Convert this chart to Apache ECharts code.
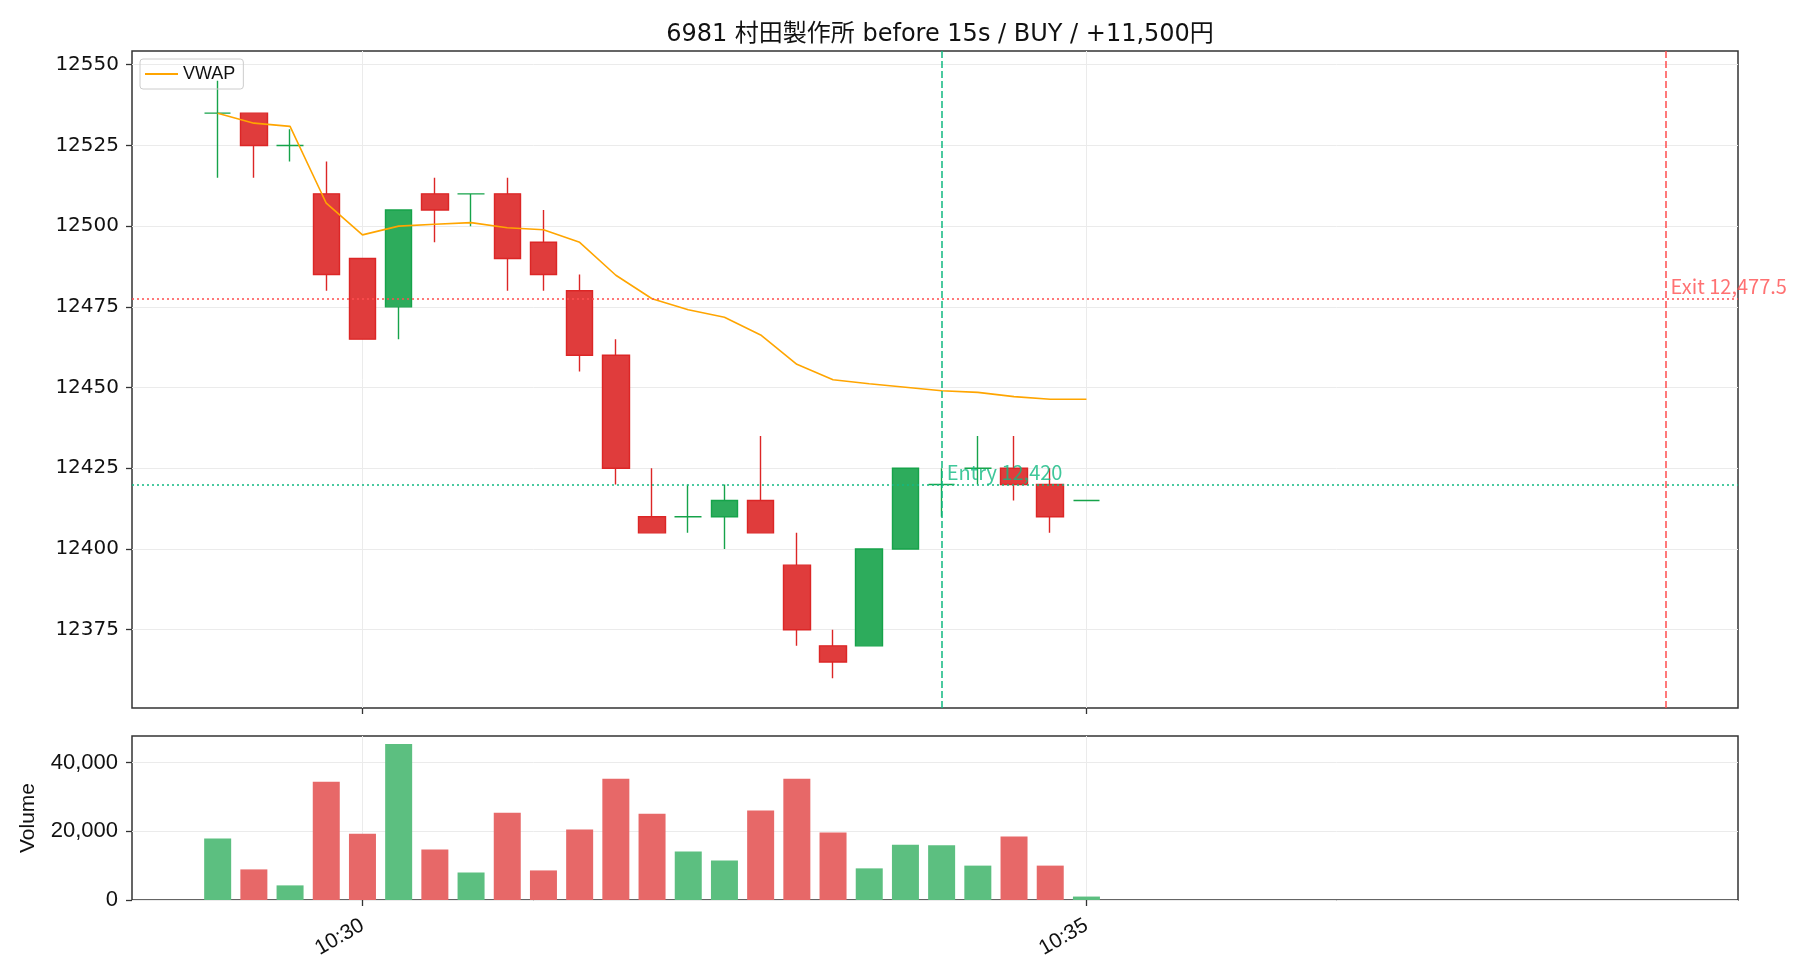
<!DOCTYPE html>
<html>
<head>
<meta charset="utf-8">
<script src="https://cdn.jsdelivr.net/npm/echarts@6/dist/echarts.min.js"></script>
<style>
html,body{margin:0;padding:0;background:#fff;}
#chart{width:1820px;height:980px;}
</style>
</head>
<body>
<div id="chart"></div>
<script>
// 15秒足 ローソク + 出来高
var times = ['10:29:00','10:29:15','10:29:30','10:29:45','10:30:00','10:30:15','10:30:30','10:30:45',
	'10:31:00','10:31:15','10:31:30','10:31:45','10:32:00','10:32:15','10:32:30','10:32:45',
	'10:33:00','10:33:15','10:33:30','10:33:45','10:34:00','10:34:15','10:34:30','10:34:45','10:35:00'];
var opens  = [12535,12535,12525,12510,12490,12475,12510,12510,12510,12495,12480,12460,12410,12410,12410,12415,12395,12370,12370,12400,12420,12425,12425,12420,12415];
var closes = [12535,12525,12525,12485,12465,12505,12505,12510,12490,12485,12460,12425,12405,12410,12415,12405,12375,12365,12400,12425,12420,12425,12420,12410,12415];
var lows   = [12515,12515,12520,12480,12465,12465,12495,12500,12480,12480,12455,12420,12405,12405,12400,12405,12370,12360,12370,12400,12410,12420,12415,12405,12415];
var highs  = [12545,12535,12530,12520,12490,12505,12515,12510,12515,12505,12485,12465,12425,12420,12420,12435,12405,12375,12400,12425,12425,12435,12435,12425,12415];
var volumes = [17900,8900,4250,34400,19300,45400,14700,8000,25400,8600,20500,35300,25100,14100,11500,26000,35300,19600,9200,16100,15900,10000,18500,10000,1000];
var vwap = [12535,12531.9,12530.9,12507.1,12497.3,12500.0,12500.6,12501.1,12499.5,12498.9,12495.0,12484.8,12477.5,12474.1,12471.8,12466.3,12457.2,12452.4,12451.2,12450.1,12449.0,12448.5,12447.2,12446.4,12446.4];

var xTickLabels = ['10:30','10:35'];
var yTicks = [12375,12400,12425,12450,12475,12500,12525,12550];
var volTicks = [0,20000,40000];

var entryTime = '10:34:00', entryPrice = 12420;
var exitTime = '10:39:00', exitPrice = 12477.5;

var UP = '#16a34a', DOWN = '#dc2626';
var UP_BODY = '#2dac5c', DOWN_BODY = '#e03c3c';
var UP_VOL = '#5cbf80', DOWN_VOL = '#e76868';
var ENTRY_C = '#10b981', EXIT_C = '#ff4d4f';
var JP = '"Noto Sans CJK JP", sans-serif';
var WIDE = '"DejaVu Sans", "Noto Sans CJK JP", sans-serif';
var SANS = '"Liberation Sans", Arial, sans-serif';

function toSec(s){
	var p = s.split(':');
	return (+p[0])*3600 + (+p[1])*60 + (p.length > 2 ? +p[2] : 0);
}
function fmtTime(v){
	var h = Math.floor(v/3600), m = Math.floor(v%3600/60);
	return h + ':' + (m < 10 ? '0' : '') + m;
}
function comma(v){
	return String(v).replace(/\B(?=(\d{3})+(?!\d))/g, ',');
}

var xTicks = xTickLabels.map(toSec);
var xMin = toSec('10:29:00') - 35.5;
var xMax = toSec('10:39:30');

var candleData = [], volData = [], vwapData = [];
for (var i = 0; i < times.length; i++) {
	var t = toSec(times[i]);
	var up = closes[i] >= opens[i];
	candleData.push({
		value: [t, opens[i], closes[i], lows[i], highs[i]],
		itemStyle: {
			color: up ? UP_BODY : DOWN_BODY, color0: up ? UP_BODY : DOWN_BODY,
			borderColor: up ? UP : DOWN, borderColor0: up ? UP : DOWN
		}
	});
	volData.push({ value: [t, volumes[i]], itemStyle: { color: up ? UP_VOL : DOWN_VOL } });
	vwapData.push([t, vwap[i]]);
}

var tickStyle = { show: true, length: 6, lineStyle: { color: '#333', width: 1.3 } };
var gridLine = { show: true, lineStyle: { color: '#ebebeb', width: 1 } };

var myChart = echarts.init(document.getElementById('chart'));
var option = {
	animation: false,
	backgroundColor: '#fff',
	title: {
		text: '6981 村田製作所 before 15s / BUY / +11,500円',
		left: 935, top: 18, textAlign: 'center',
		textStyle: { fontFamily: WIDE, fontSize: 24, fontWeight: 'normal', color: '#111' }
	},
	legend: {
		data: ['VWAP'],
		left: 140, top: 59,
		padding: [6, 8, 6, 5],
		borderColor: '#ccc', borderWidth: 1, borderRadius: 3,
		icon: 'rect', itemWidth: 33, itemHeight: 2,
		textStyle: { fontFamily: SANS, fontSize: 18, color: '#111' }
	},
	grid: [
		{ left: 132, right: 82, top: 51, height: 657, show: true, borderColor: '#333', borderWidth: 1.5, backgroundColor: 'transparent' },
		{ left: 132, right: 82, top: 736, height: 164, show: true, borderColor: '#333', borderWidth: 1.5, backgroundColor: 'transparent' }
	],
	xAxis: [
		{
			type: 'value', gridIndex: 0, min: xMin, max: xMax,
			axisLine: { show: false },
			axisTick: Object.assign({ customValues: xTicks }, tickStyle),
			axisLabel: { show: false, customValues: xTicks },
			splitLine: gridLine
		},
		{
			type: 'value', gridIndex: 1, min: xMin, max: xMax,
			axisLine: { show: false },
			axisTick: Object.assign({ customValues: xTicks }, tickStyle),
			axisLabel: {
				customValues: xTicks, rotate: 30, margin: 24,
				formatter: fmtTime,
				fontFamily: SANS, fontSize: 21, color: '#111'
			},
			splitLine: gridLine
		}
	],
	yAxis: [
		{
			type: 'value', gridIndex: 0, min: 12350.75, max: 12554.25,
			axisLine: { show: false },
			axisTick: Object.assign({ customValues: yTicks }, tickStyle),
			axisLabel: { customValues: yTicks, margin: 13, formatter: function (v) { return String(v); },
				fontFamily: WIDE, fontSize: 20, color: '#111' },
			splitLine: gridLine
		},
		{
			type: 'value', gridIndex: 1, min: 0, max: 47700, interval: 20000,
			name: 'Volume', nameLocation: 'middle', nameGap: 93, nameRotate: 90,
			nameTextStyle: { fontFamily: SANS, fontSize: 21, color: '#111' },
			axisLine: { show: false },
			axisTick: Object.assign({ customValues: volTicks }, tickStyle),
			axisLabel: { customValues: volTicks, margin: 14, formatter: comma, fontFamily: SANS, fontSize: 22, color: '#111' },
			splitLine: gridLine
		}
	],
	series: [
		{
			name: 'candle',
			type: 'candlestick',
			xAxisIndex: 0, yAxisIndex: 0,
			barWidth: 27,
			itemStyle: { borderWidth: 1.4 },
			encode: { x: 0, y: [1, 2, 3, 4] },
			data: candleData,
			markLine: {
				silent: true, symbol: ['none', 'none'], label: { show: false },
				data: [
					{ xAxis: toSec(entryTime), lineStyle: { color: ENTRY_C, type: [7, 3], width: 1.5 } },
					{ yAxis: entryPrice, lineStyle: { color: ENTRY_C, type: [2, 3], width: 1.5 } },
					{ xAxis: toSec(exitTime), lineStyle: { color: EXIT_C, type: [7, 3], width: 1.5 } },
					{ yAxis: exitPrice, lineStyle: { color: EXIT_C, type: [2, 3], width: 1.5 } }
				]
			}
		},
		{
			name: 'VWAP',
			type: 'line',
			xAxisIndex: 0, yAxisIndex: 0,
			showSymbol: false, symbol: 'none',
			lineStyle: { color: '#ffa500', width: 1.6 },
			itemStyle: { color: '#ffa500' },
			data: vwapData
		},
		{
			name: 'entryLabel',
			type: 'scatter', silent: true, z: 5,
			xAxisIndex: 0, yAxisIndex: 0,
			symbolSize: 0,
			data: [[toSec(entryTime), entryPrice]],
			label: { show: true, formatter: 'Entry ' + comma(entryPrice), position: [5, -2], align: 'left', verticalAlign: 'bottom',
				color: ENTRY_C, fontFamily: JP, fontSize: 20 }
		},
		{
			name: 'exitLabel',
			type: 'scatter', silent: true, z: 5,
			xAxisIndex: 0, yAxisIndex: 0,
			symbolSize: 0,
			data: [[toSec(exitTime), exitPrice]],
			label: { show: true, formatter: 'Exit ' + comma(exitPrice), position: [5, -2], align: 'left', verticalAlign: 'bottom',
				color: EXIT_C, fontFamily: JP, fontSize: 20 }
		},
		{
			name: 'Volume',
			type: 'bar',
			xAxisIndex: 1, yAxisIndex: 1,
			barWidth: 27,
			data: volData
		}
	]
};
option && myChart.setOption(option);
</script>
</body>
</html>
